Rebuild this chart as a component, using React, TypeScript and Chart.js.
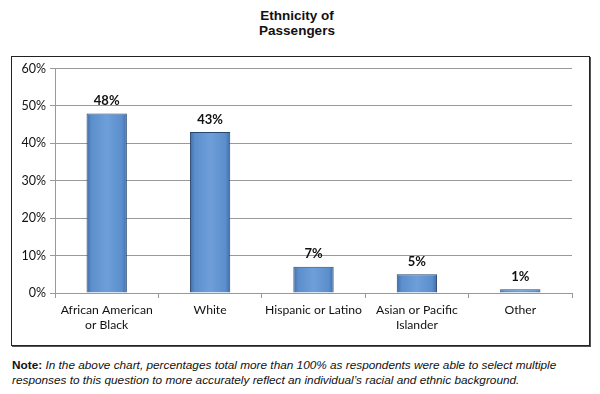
import React, { useEffect, useRef } from "react";
import { Chart, registerables } from "chart.js";

Chart.register(...registerables);

const categories: (string | string[])[] = [
  ["African American", "or Black"],
  "White",
  "Hispanic or Latino",
  ["Asian or Pacific", "Islander"],
  "Other",
];
const values: number[] = [48, 43, 7, 5, 1];
const valueLabels: string[] = ["48%", "43%", "7%", "5%", "1%"];
const yMax = 60;
const yStep = 10;

const gradientPlugin = {
  id: "barGradient",
  beforeDatasetsDraw(chart: any) {
    const ctx = chart.ctx;
    const meta = chart.getDatasetMeta(0);
    meta.data.forEach((el: any) => {
      const w = el.width;
      const g = ctx.createLinearGradient(el.x - w / 2, 0, el.x + w / 2, 0);
      g.addColorStop(0, "#3F6EA8");
      g.addColorStop(0.12, "#5B8ECC");
      g.addColorStop(0.5, "#6E9FD9");
      g.addColorStop(0.88, "#5B8ECC");
      g.addColorStop(1, "#3F6EA8");
      el.options = { ...el.options, backgroundColor: g };
    });
  },
};

const labelPlugin = {
  id: "valueLabels",
  afterDatasetsDraw(chart: any) {
    const ctx = chart.ctx;
    const meta = chart.getDatasetMeta(0);
    ctx.save();
    ctx.font = "bold 13px Lato, 'Open Sans', sans-serif";
    ctx.fillStyle = "#111";
    ctx.textAlign = "center";
    ctx.textBaseline = "bottom";
    meta.data.forEach((el: any, i: number) => {
      ctx.fillText(valueLabels[i], el.x, el.y - 6);
    });
    ctx.restore();
  },
};

export default function App() {
  const ref = useRef<HTMLCanvasElement | null>(null);
  useEffect(() => {
    if (!ref.current) return;
    const chart = new Chart(ref.current, {
      type: "bar",
      data: {
        labels: categories,
        datasets: [
          {
            data: values,
            backgroundColor: "#5B8ECC",
            borderColor: "#27466E",
            borderWidth: 1,
            categoryPercentage: 1,
            barPercentage: 0.39,
          },
        ],
      },
      options: {
        animation: false,
        responsive: false,
        maintainAspectRatio: false,
        layout: { padding: { left: 0, top: 11, right: 17, bottom: 0 } },
        plugins: {
          legend: { display: false },
          title: { display: false },
          tooltip: { enabled: false },
        },
        scales: {
          x: {
            grid: {
              offset: true,
              drawOnChartArea: false,
              drawTicks: true,
              tickLength: 5,
              color: "#999",
            },
            border: { color: "#999" },
            ticks: {
              color: "#111",
              font: { family: "Lato, 'Open Sans', sans-serif", size: 12.2 },
              padding: 5,
              maxRotation: 0,
              autoSkip: false,
            },
            afterFit: (s: any) => {
              s.height = 52;
            },
          },
          y: {
            min: 0,
            max: yMax,
            ticks: {
              stepSize: yStep,
              color: "#111",
              font: { family: "Lato, 'Open Sans', sans-serif", size: 12.5 },
              padding: 4,
              callback: (v: any) => v + "%",
            },
            grid: { color: "#9a9a9a", tickLength: 5, lineWidth: 1 },
            border: { color: "#999" },
            afterFit: (s: any) => {
              s.width = 43;
            },
          },
        },
      },
      plugins: [gradientPlugin, labelPlugin],
    });
    return () => chart.destroy();
  }, []);

  return (
    <div
      style={{
        position: "absolute",
        left: 0,
        top: 0,
        width: 600,
        height: 394,
        background: "#fff",
        fontFamily: "'Liberation Sans', Arial, sans-serif",
      }}
    >
      <div
        style={{
          position: "absolute",
          left: 0,
          top: 8,
          width: 594,
          textAlign: "center",
          fontWeight: "bold",
          fontSize: 13.5,
          lineHeight: "15px",
          color: "#111",
        }}
      >
        Ethnicity of
        <br />
        Passengers
      </div>
      <div
        style={{
          position: "absolute",
          left: 11,
          top: 56,
          width: 577,
          height: 288,
          border: "1px solid #222",
          boxShadow: "1px 1px 0 #555",
        }}
      >
        <canvas ref={ref} width={577} height={288} style={{ display: "block" }} />
      </div>
      <div
        style={{
          position: "absolute",
          left: 12,
          top: 358,
          width: 575,
          fontSize: 11.8,
          lineHeight: "15px",
          color: "#111",
        }}
      >
        <b>Note:</b>{" "}
        <i>
          In the above chart, percentages total more than 100% as respondents were able to select multiple
          responses to this question to more accurately reflect an individual’s racial and ethnic background.
        </i>
      </div>
    </div>
  );
}
